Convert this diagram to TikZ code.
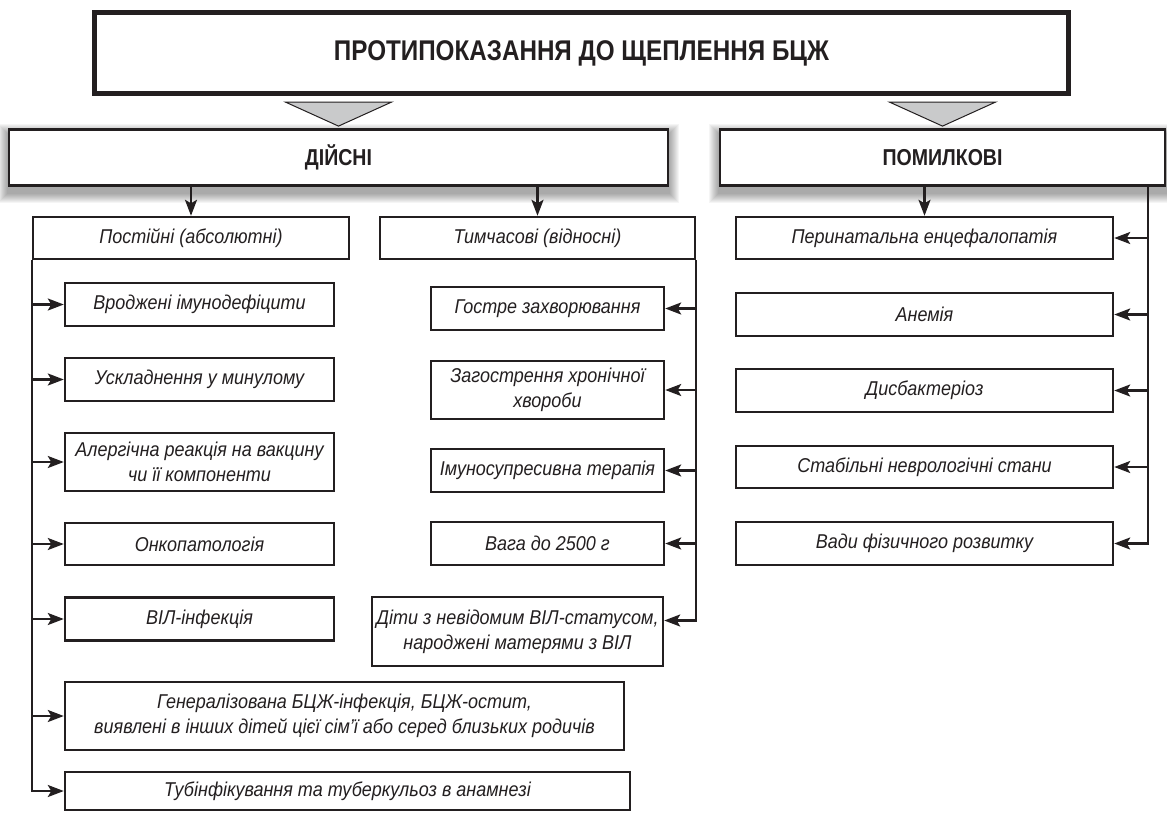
\documentclass[tikz,border=0pt]{standalone}
\usepackage{fontspec}
\setmainfont[FakeStretch=0.9]{Liberation Sans}
\newfontfamily\headfont[FakeStretch=0.85]{Liberation Sans}
\usepackage{xcolor}
\usepackage{tikz}
\usetikzlibrary{arrows.meta,positioning,backgrounds}

\definecolor{ink}{HTML}{231F20}
\definecolor{trigray}{HTML}{C9CACB}

\tikzset{
  box/.style={draw=ink, line width=2.4pt, fill=white, align=center, inner sep=2pt,
    text=ink, font=\itshape\fontsize{20}{25}\selectfont},
  headbox/.style={draw=ink, line width=2.4pt, fill=white, minimum height=56pt,
    text=ink, font=\headfont\bfseries\fontsize{23}{27}\selectfont},
  link/.style={draw=ink, line width=2.4pt},
  tri/.style={draw=ink, line width=1pt, fill=trigray},
}

\begin{document}
\begin{tikzpicture}[x=1pt, y=-1pt, >={Stealth[length=16pt,width=12pt,inset=3.5pt]}]
        \useasboundingbox (0,0) rectangle (1167,812);

        % Title
        \node[draw=ink, line width=4.2pt, fill=white, minimum width=975pt, minimum height=82pt,
              text=ink, font=\headfont\bfseries\fontsize{28.5}{33}\selectfont] (title) at (581.5,53)
              {ПРОТИПОКАЗАННЯ ДО ЩЕПЛЕННЯ БЦЖ};
        \draw[ink, line width=1pt] ([shift={(4.6,4.6)}]title.north west) rectangle ([shift={(-4.6,-4.6)}]title.south east);

        % Groups
        \node[headbox, minimum width=659pt] (dijsni) at (338.5,157.5) {ДІЙСНІ};
        \node[headbox, minimum width=445pt] (pomyl) at (942.5,157.5) {ПОМИЛКОВІ};

        % Triangles
        \coordinate (t1) at (dijsni.north |- title.south);
        \coordinate (t2) at (pomyl.north |- title.south);
        \foreach \t in {t1,t2} {
            \filldraw[tri] ([shift={(-53,6)}]\t) -- ([shift={(53,6)}]\t) -- ([shift={(0,30)}]\t) -- cycle;
        }

        % Soft shadows
        \begin{scope}[on background layer]
            \foreach \n in {dijsni,pomyl}
                \foreach \r in {1,...,10}
                    \fill[black, opacity=0.04] ([shift={(-\r,6+\r)}]\n.south west) rectangle ([shift={(\r,6-\r)}]\n.north east);
        \end{scope}

        % Permanent
        \node[box, minimum width=316pt, minimum height=42pt] (post) at (191,238) {Постійні (абсолютні)};
        \node[box, minimum width=269pt, minimum height=43pt] (vrodz) at (199.5,304.5) {Вроджені імунодефіцити};
        \node[box, minimum width=269pt, minimum height=43pt] (uskl) at (199.5,379.5) {Ускладнення у минулому};
        \node[box, minimum width=269pt, minimum height=58pt] (alerg) at (199.5,462) {Алергічна реакція на вакцину\\чи її компоненти};
        \node[box, minimum width=269pt, minimum height=42pt] (onko) at (199.5,544) {Онкопатологія};
        \node[box, minimum width=269pt, minimum height=43pt] (vil) at (199.5,619) {ВІЛ-інфекція};
        \node[box, minimum width=559pt, minimum height=68pt] (gener) at (344.5,716)
            {Генералізована БЦЖ-інфекція, БЦЖ-остит,\\виявлені в інших дітей цієї сім’ї або серед близьких родичів};
        \node[box, minimum width=565pt, minimum height=38pt] (tub) at (347.5,791) {Тубінфікування та туберкульоз в анамнезі};

        % Temporary
        \node[box, minimum width=315pt, minimum height=42pt] (tymch) at (537.5,238) {Тимчасові (відносні)};
        \node[box, minimum width=233pt, minimum height=43pt] (gostre) at (547.5,308.5) {Гостре захворювання};
        \node[box, minimum width=233pt, minimum height=58pt] (zagostr) at (547.5,390) {Загострення хронічної\\хвороби};
        \node[box, minimum width=233pt, minimum height=43pt] (imuno) at (547.5,470.5) {Імуносупресивна терапія};
        \node[box, minimum width=233pt, minimum height=43pt] (vaga) at (547.5,543.5) {Вага до 2500 г};
        \node[box, minimum width=291pt, minimum height=69pt] (dity) at (517.5,631.5) {Діти з невідомим ВІЛ-статусом,\\народжені матерями з ВІЛ};

        % False
        \node[box, minimum width=377pt, minimum height=42pt] (perin) at (924.5,238) {Перинатальна енцефалопатія};
        \node[box, minimum width=377pt, minimum height=43pt] (anem) at (924.5,314.5) {Анемія};
        \node[box, minimum width=377pt, minimum height=43pt] (dysb) at (924.5,390.5) {Дисбактеріоз};
        \node[box, minimum width=377pt, minimum height=42pt] (stab) at (924.5,467) {Стабільні неврологічні стани};
        \node[box, minimum width=377pt, minimum height=43pt] (vady) at (924.5,543.5) {Вади фізичного розвитку};

        % Arrows
        \draw[link, ->] (dijsni.south -| post.north) -- (post.north);
        \draw[link, ->] (dijsni.south -| tymch.north) -- (tymch.north);
        \draw[link, ->] (pomyl.south -| perin.north) -- (perin.north);

        \draw[link, ->] (post.south west) |- (tub.west);
        \foreach \n in {vrodz,uskl,alerg,onko,vil,gener} {
            \draw[link, ->] (post.south west |- \n.west) -- (\n.west);
        }

        \draw[link, ->] (tymch.south east) |- ([yshift=11pt]dity.east);
        \foreach \n in {gostre,zagostr,imuno,vaga} {
            \draw[link, ->] (tymch.east |- \n.east) -- (\n.east);
        }

        \coordinate (rx) at (1148,0);
        \draw[link, ->] (pomyl.south -| rx) |- (vady.east);
        \foreach \n in {perin,anem,dysb,stab} {
            \draw[link, ->] (rx |- \n.east) -- (\n.east);
        }
    \end{tikzpicture}
\end{document}
